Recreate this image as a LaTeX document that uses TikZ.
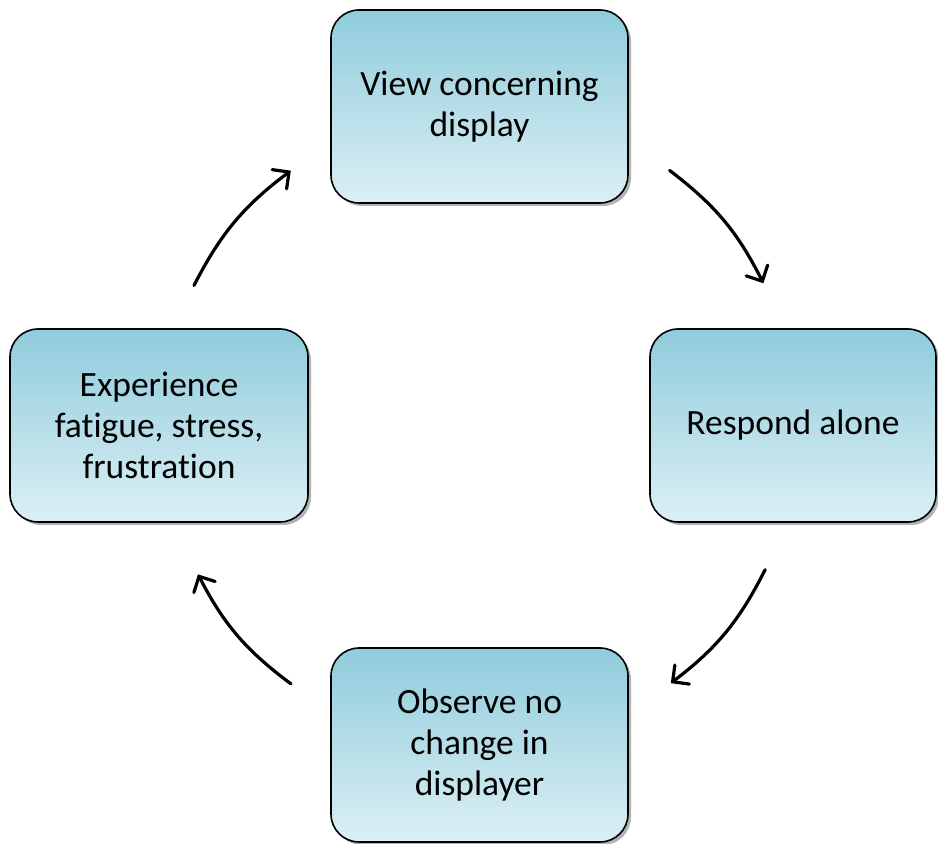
\documentclass[tikz,border=0pt]{standalone}
\usepackage{fontspec}
\setmainfont{Carlito}[Ligatures=NoCommon]
\usetikzlibrary{arrows.meta,shadows}
\definecolor{boxtop}{RGB}{143,204,220}
\definecolor{boxbot}{RGB}{220,239,244}
\tikzset{
  box/.style={draw=black, line width=1.6pt, rounded corners=28pt,
    top color=boxtop, bottom color=boxbot, align=center,
    font=\fontsize{35.5}{41}\selectfont, inner sep=0pt,
    minimum height=193pt,
    drop shadow={shadow xshift=3pt, shadow yshift=-3pt, fill=black, opacity=0.3}},
  arr/.style={line width=3.2pt, line cap=round,
    -{Straight Barb[length=12pt,width=24pt,line cap=round]}}
}
\begin{document}
\begin{tikzpicture}[x=1pt,y=1pt]
\useasboundingbox (0,0) rectangle (938,844);
\node[box, minimum width=297pt] (top) at (479.5,737.5) {View concerning\\display};
\node[box, minimum width=286pt] (right) at (793,418.5) {Respond alone};
\node[box, minimum width=298pt] (left) at (159,418.5) {Experience\\fatigue, stress,\\frustration};
\node[box, minimum width=297pt, minimum height=194pt] (bottom) at (479.5,99) {Observe no\\change in\\displayer};
\coordinate (C) at (477,418);
\coordinate (a1s) at ([shift={(53:320pt)}]C);
\coordinate (a1e) at ([shift={(26.5:320pt)}]C);
\coordinate (a2s) at ([shift={(-26.5:322pt)}]C);
\coordinate (a2e) at ([shift={(-53:322pt)}]C);
\coordinate (a3s) at ([shift={(234.2:318pt)}]C);
\coordinate (a3e) at ([shift={(208:316pt)}]C);
\coordinate (a4s) at ([shift={(153.6:316pt)}]C);
\coordinate (a4e) at ([shift={(126.1:316pt)}]C);
\draw[arr] (a1s) to[bend left=13] (a1e);
\draw[arr] (a2s) to[bend left=13] (a2e);
\draw[arr] (a3s) to[bend left=13] (a3e);
\draw[arr] (a4s) to[bend left=13] (a4e);
\end{tikzpicture}
\end{document}
